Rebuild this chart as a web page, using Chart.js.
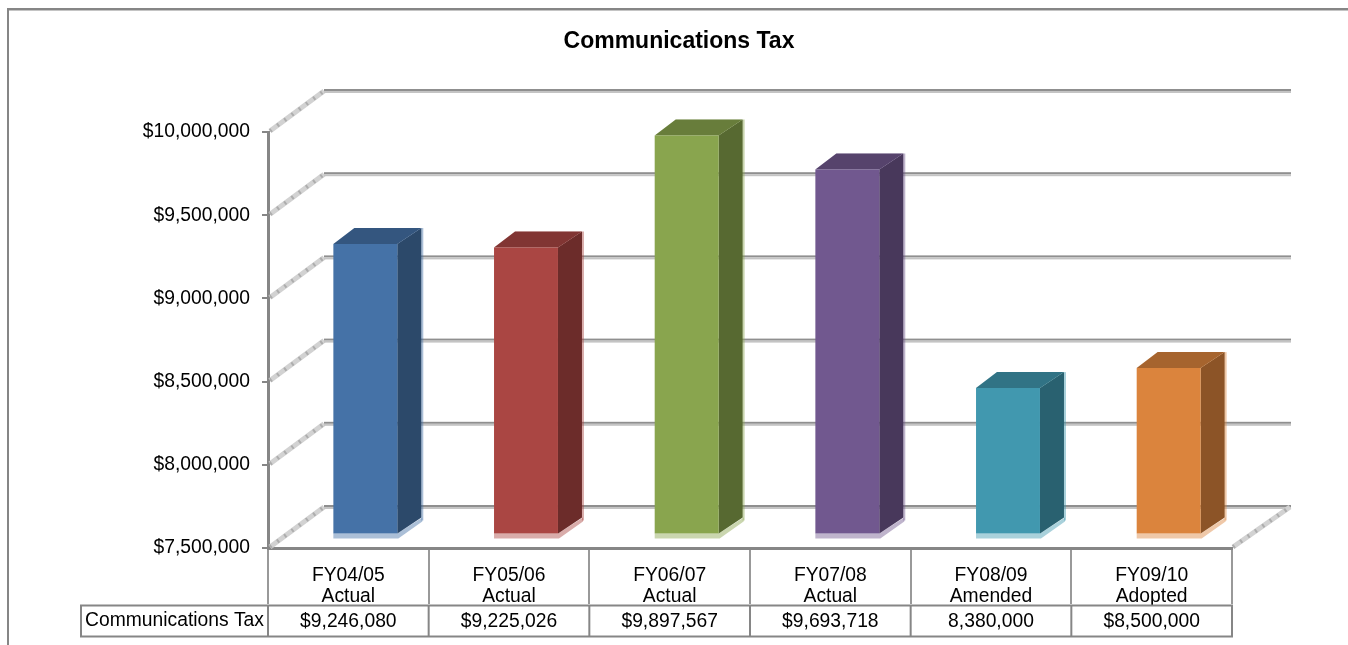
<!DOCTYPE html>
<html>
<head>
<meta charset="utf-8">
<title>Communications Tax</title>
<script src="https://cdn.jsdelivr.net/npm/chart.js@4/dist/chart.umd.min.js"></script>
<style>
  html, body { margin: 0; padding: 0; background: #fff; overflow: hidden; }
  canvas { display: block; }
</style>
</head>
<body>
<canvas id="taxChart" width="1348" height="645"></canvas>
<script>
// Data
const categories = [
  ['FY04/05', 'Actual'],
  ['FY05/06', 'Actual'],
  ['FY06/07', 'Actual'],
  ['FY07/08', 'Actual'],
  ['FY08/09', 'Amended'],
  ['FY09/10', 'Adopted']
];
const seriesName = 'Communications Tax';
const taxValues = [9246080, 9225026, 9897567, 9693718, 8380000, 8500000];
const tableLabels = ['$9,246,080', '$9,225,026', '$9,897,567', '$9,693,718', '8,380,000', '$8,500,000'];
const barColors = ['#4572a7', '#aa4643', '#89a54e', '#71588f', '#4198af', '#db843d'];
const axisMin = 7500000;
const axisMax = 10000000;
const axisStep = 500000;

const axisGrey = '#868686';
const textFont = '"Liberation Sans", Arial, sans-serif';
const textSize = 19.3;

// Fake 3D depth, in pixels
const wallDx = 56;
const wallDy = 41;
const barDx = 17;      // front face of the bar sits this far into the floor
const barDy = 13.5;
const sideDx = 24;
const sideDy = 16;

function polygon(ctx, points, fill) {
  ctx.beginPath();
  points.forEach((p, i) => (i ? ctx.lineTo(p[0], p[1]) : ctx.moveTo(p[0], p[1])));
  ctx.closePath();
  ctx.fillStyle = fill;
  ctx.fill();
}

// Light band with darker hatching, used for the wall and floor edges
function hatchedEdge(ctx, x0, y0, x1, y1) {
  ctx.beginPath();
  ctx.moveTo(x0, y0);
  ctx.lineTo(x1, y1);
  ctx.setLineDash([]);
  ctx.strokeStyle = '#d2d2d2';
  ctx.lineWidth = 5;
  ctx.stroke();
  ctx.setLineDash([2, 7]);
  ctx.strokeStyle = '#adadad';
  ctx.lineWidth = 4;
  ctx.stroke();
  ctx.setLineDash([]);
}

// Frame, back wall, side wall and floor edge
const wallsPlugin = {
  id: 'walls',
  beforeDatasetsDraw(chart) {
    const { ctx, chartArea: area, scales } = chart;
    ctx.save();

    ctx.strokeStyle = axisGrey;
    ctx.lineWidth = 2;
    ctx.beginPath();
    ctx.moveTo(8, 645);
    ctx.lineTo(8, 9);
    ctx.lineTo(1348, 9);
    ctx.stroke();
    ctx.fillStyle = '#c4c4c4';
    ctx.fillRect(9, 10, 1339, 1);

    scales.y.ticks.forEach((tick) => {
      const py = scales.y.getPixelForValue(tick.value);
      hatchedEdge(ctx, area.left + 2, py - 1, area.left + wallDx, py - wallDy);
      // back wall line, dark with a light edge under it
      ctx.fillStyle = '#8f8f8f';
      ctx.fillRect(area.left + wallDx, py - wallDy - 2, area.width + 3, 2);
      ctx.fillStyle = '#c4c4c4';
      ctx.fillRect(area.left + wallDx, py - wallDy, area.width + 3, 2);
    });

    // right edge of the floor
    const floorY = scales.y.getPixelForValue(axisMin);
    hatchedEdge(ctx, area.right + 1, floorY - 1, area.right + wallDx + 2, floorY - wallDy);
    ctx.restore();
  }
};

// Side and top faces; the library's own bar is moved back onto the floor
const bars3dPlugin = {
  id: 'bars3d',
  beforeDatasetDraw(chart, args) {
    const { ctx } = chart;
    ctx.save();
    ctx.translate(barDx, -barDy);
    args.meta.data.forEach((bar, i) => {
      const color = barColors[i];
      const left = bar.x - bar.width / 2;
      const right = bar.x + bar.width / 2;
      const top = bar.y;
      const base = bar.base;

      // pale reflection under the bar
      ctx.globalAlpha = 0.45;
      polygon(ctx, [[left, base], [right, base], [right + sideDx + 1, base - sideDy],
        [right + sideDx + 1, base - sideDy + 4], [right + 1, base + 5], [left, base + 5]], color);
      polygon(ctx, [[right + sideDx, top - sideDy], [right + sideDx + 2, top - sideDy],
        [right + sideDx + 2, base - sideDy + 3], [right + sideDx, base - sideDy + 3]], color);
      ctx.globalAlpha = 1;

      // right face
      polygon(ctx, [[right, top], [right + sideDx, top - sideDy], [right + sideDx, base - sideDy], [right, base]], color);
      polygon(ctx, [[right, top], [right + sideDx, top - sideDy], [right + sideDx, base - sideDy], [right, base]], 'rgba(0,0,0,0.36)');
      // top face
      polygon(ctx, [[left, top], [left + sideDx - 3, top - sideDy], [right + sideDx, top - sideDy], [right, top]], color);
      polygon(ctx, [[left, top], [left + sideDx - 3, top - sideDy], [right + sideDx, top - sideDy], [right, top]], 'rgba(0,0,0,0.24)');
    });
  },
  afterDatasetDraw(chart) {
    chart.ctx.restore();
  }
};

// Data table row under the axis
const dataTablePlugin = {
  id: 'dataTable',
  afterDraw(chart) {
    const { ctx, chartArea: area, scales } = chart;
    const rowTop = 605.5;
    const rowBottom = 636.5;
    const rowLeft = 81;
    const xs = categories.map((c, i) => scales.x.getPixelForValue(i) - scales.x.width / categories.length / 2);
    xs.push(area.right);

    ctx.save();
    ctx.strokeStyle = axisGrey;
    ctx.lineWidth = 2;
    ctx.strokeRect(rowLeft, rowTop, area.right - rowLeft, rowBottom - rowTop);
    ctx.beginPath();
    xs.forEach((x) => {
      ctx.moveTo(x, rowTop);
      ctx.lineTo(x, rowBottom);
    });
    ctx.stroke();

    ctx.fillStyle = '#000';
    ctx.font = textSize + 'px ' + textFont;
    ctx.textAlign = 'center';
    ctx.textBaseline = 'middle';
    ctx.fillText(seriesName, (rowLeft + area.left) / 2, 621);
    tableLabels.forEach((label, i) => {
      ctx.fillText(label, scales.x.getPixelForValue(i), 622);
    });
    ctx.restore();
  }
};

new Chart(document.getElementById('taxChart'), {
  type: 'bar',
  data: {
    labels: categories,
    datasets: [{
      label: seriesName,
      data: taxValues,
      base: axisMin,
      backgroundColor: barColors,
      borderWidth: 0,
      barPercentage: 0.398,
      categoryPercentage: 1,
      clip: false
    }]
  },
  options: {
    responsive: false,
    animation: false,
    layout: { padding: { left: 10, right: 0, top: 0, bottom: 0 } },
    plugins: {
      legend: { display: false },
      tooltip: { enabled: false },
      title: {
        display: true,
        text: 'Communications Tax',
        color: '#000',
        font: { family: textFont, size: 23, weight: 'bold', lineHeight: 1 },
        padding: { top: 30, bottom: 79 }
      }
    },
    scales: {
      x: {
        offset: true,
        border: { color: axisGrey, width: 3 },
        grid: {
          offset: true,
          drawOnChartArea: false,
          color: '#999999',
          lineWidth: 2,
          tickLength: 56
        },
        ticks: {
          autoSkip: false,
          maxRotation: 0,
          padding: -39,
          color: '#000',
          font: { family: textFont, size: textSize, lineHeight: 1.09 }
        },
        afterFit(scale) { scale.height = 97; }
      },
      y: {
        min: axisMin,
        max: axisMax,
        border: { color: axisGrey, width: 3 },
        grid: {
          drawOnChartArea: false,
          color: axisGrey,
          lineWidth: 2,
          tickLength: 6
        },
        ticks: {
          stepSize: axisStep,
          padding: 12,
          color: '#000',
          font: { family: textFont, size: textSize },
          callback: (value) => '$' + value.toLocaleString('en-US')
        },
        afterFit(scale) { scale.width = 258; }
      },
      // empty axis, only keeps room to the right of the plot
      spacer: {
        position: 'right',
        display: true,
        border: { display: false },
        grid: { display: false },
        ticks: { display: false },
        afterFit(scale) { scale.width = 116; }
      }
    }
  },
  plugins: [wallsPlugin, bars3dPlugin, dataTablePlugin]
});
</script>
</body>
</html>
